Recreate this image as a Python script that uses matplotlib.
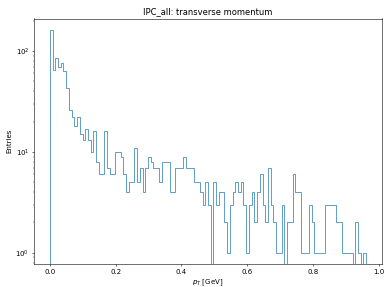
import numpy as np
import matplotlib.pyplot as plt

# bin contents (entries per bin)
counts = [163, 65, 86, 70, 76, 64, 43, 26, 22, 18,
          22, 15, 13, 17, 13, 10, 16, 8, 6, 6,
          16, 7, 6, 6, 10, 10, 9, 6, 4, 5,
          5, 11, 5, 7, 4, 7, 9, 8, 7, 7,
          5, 8, 8, 8, 4, 4, 7, 7, 7, 9,
          7, 7, 7, 5, 5, 4, 3, 5, 3, 0,
          5, 3, 4, 4, 2, 1, 3, 4, 5, 4,
          5, 3, 1, 3, 4, 2, 4, 6, 3, 2,
          7, 3, 2, 1, 1, 3, 0, 2, 2, 6,
          4, 4, 1, 1, 1, 3, 2, 1, 1, 1,
          1, 3, 3, 3, 3, 2, 2, 1, 1, 1,
          1, 0, 2, 1, 0, 1]
pt_min = 0.0
pt_max = 0.962

edges = np.linspace(pt_min, pt_max, len(counts) + 1)
centers = 0.5 * (edges[:-1] + edges[1:])

fig = plt.figure(figsize=(385 / 50, 287 / 50), dpi=50)
plt.hist(centers, bins=edges, weights=counts, histtype='step', log=True)
plt.xlabel(r'$p_T$ [GeV]')
plt.ylabel('Entries')
plt.title('IPC_all: transverse momentum')
plt.subplots_adjust(left=34 / 385, right=382 / 385, bottom=1 - 264 / 287, top=1 - 18.5 / 287)
plt.savefig('out.png', dpi=50)
